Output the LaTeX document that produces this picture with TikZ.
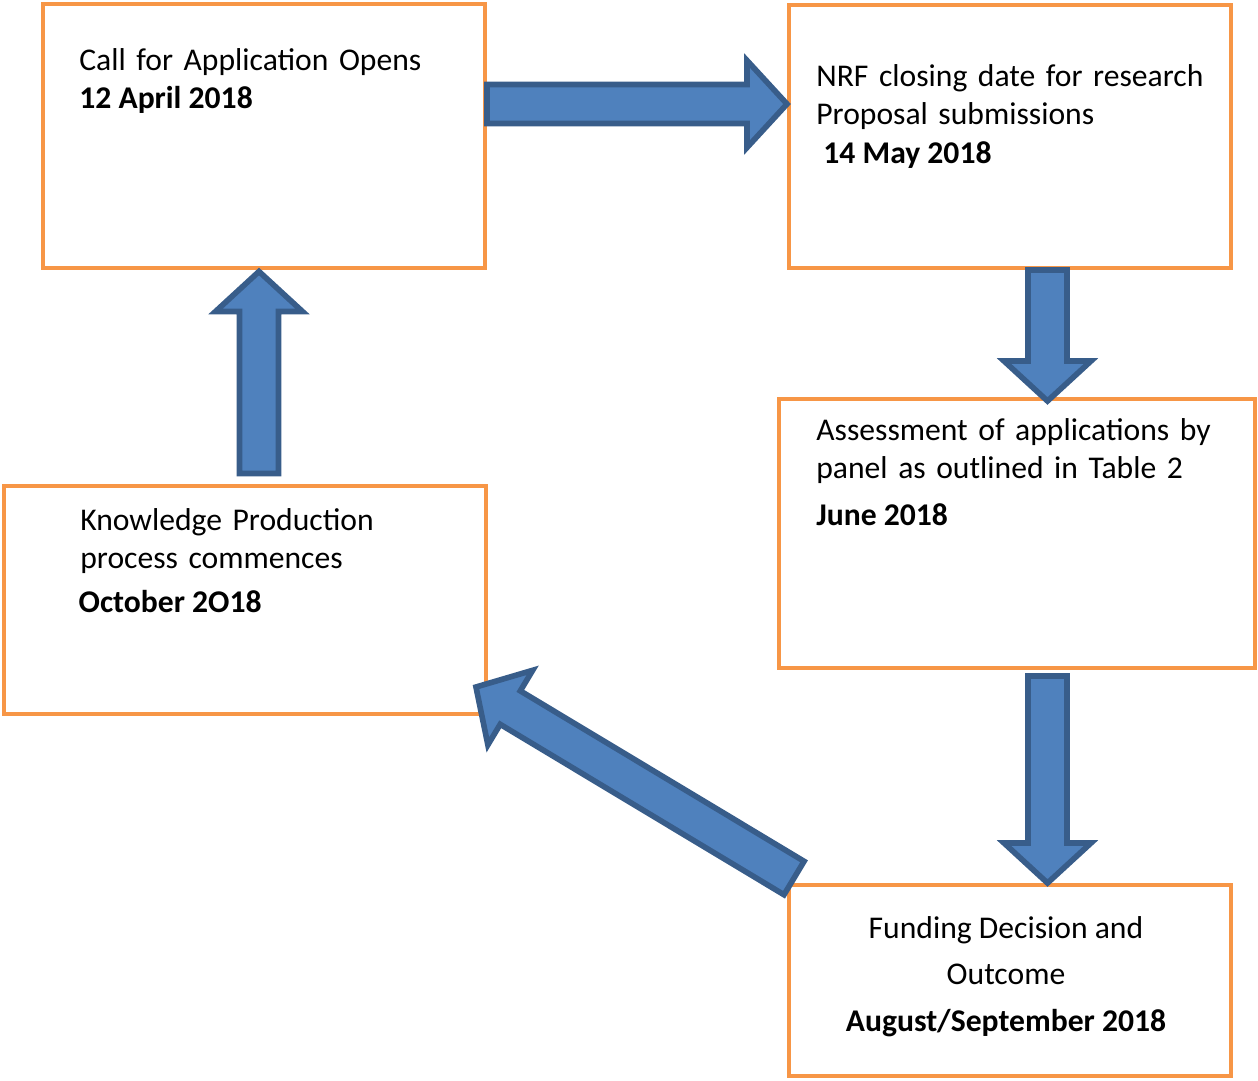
\documentclass[tikz,border=0pt]{standalone}
\usepackage{fontspec}
\setmainfont{Carlito}
\usetikzlibrary{positioning,calc}
\definecolor{boxColor}{RGB}{247,150,70}
\definecolor{arrowFill}{RGB}{79,129,189}
\definecolor{arrowLine}{RGB}{56,93,138}
\newcommand{\wideSpaces}{\spaceskip=6pt plus 1pt\relax}
\newcommand{\dateText}[1]{{\bfseries\spaceskip=0pt\relax #1}}
\tikzstyle{stageBox} = [draw=boxColor, line width=2.3pt, inner sep=0pt]
\tikzstyle{stageText} = [anchor=north west, inner sep=0pt, align=left, font=\fontsize{18}{22}\selectfont\wideSpaces]
\tikzstyle{arrowStyle} = [draw=arrowLine, fill=arrowFill, line width=3.2pt]
\newcommand{\shaftW}{0.39cm}
\newcommand{\headW}{0.87cm}
\newcommand{\headL}{0.8cm}
\newcommand{\blockArrow}[2]{
  \coordinate (headBase) at ($(#2)!\headL!(#1)$);
  \filldraw [arrowStyle] ($(#1)!\shaftW!90:(#2)$) -- ($(headBase)!\shaftW!90:(#2)$)
    -- ($(headBase)!\headW!90:(#2)$) -- (#2) -- ($(headBase)!\headW!-90:(#2)$)
    -- ($(headBase)!\shaftW!-90:(#2)$) -- ($(#1)!\shaftW!-90:(#2)$) -- cycle;
}

\begin{document}
\begin{tikzpicture}[x=0.02cm, y=-0.02cm]
  \useasboundingbox (0,0) rectangle (1258,1080);

  % stages
  \node [stageBox, minimum width=8.84cm, minimum height=5.28cm] (call) at (264,136) {};
  \node [stageBox, minimum width=8.84cm, minimum height=5.26cm] (closing) at (1010,136.5) {};
  \node [stageBox, minimum width=9.52cm, minimum height=5.38cm] (assess) at (1017,533.5) {};
  \node [stageBox, minimum width=8.84cm, minimum height=3.82cm] (funding) at (1010,980.5) {};
  \node [stageBox, minimum width=9.64cm, minimum height=4.56cm] (knowledge) at (245,600) {};

  \node [stageText] (callText) at ($(call.north west)+(38,46)$)
    {Call for Application Opens\\ \dateText{12 April 2018}};
  \node [stageText] (closingText) at ($(closing.north west)+(29,61)$)
    {NRF closing date for research\\Proposal submissions\\ \hspace*{4pt}\dateText{14 May 2018}};
  \node [stageText] (assessText) at ($(assess.north west)+(39,21)$)
    {Assessment of applications by\\panel as outlined in Table 2\\[4.6pt]\dateText{June 2018}};
  \node [stageText] (knowledgeText) at ($(knowledge.north west)+(78,24)$)
    {Knowledge Production\\process commences\\[2.9pt]\hspace*{-1pt}\dateText{October 2O18}};
  \node [stageText, anchor=north, align=center, font=\fontsize{18}{26.4}\selectfont] (fundingText)
    at ($(funding.north)+(-4,33)$)
    {Funding Decision and\\Outcome\\\dateText{August/September 2018}};

  % arrow ends
  \coordinate (a1Tail) at ($(call.east)+(0,-32)$);
  \coordinate (a1Tip) at ($(closing.west)+(0,-32.5)$);
  \coordinate (a2Tail) at ($(closing.south)+(37.5,0)$);
  \coordinate (a2Tip) at ($(assess.north)+(30.5,4)$);
  \coordinate (a3Tail) at ($(assess.south)+(30.5,6)$);
  \coordinate (a3Tip) at ($(funding.north)+(37.5,0)$);
  \coordinate (a4Tail) at ($(funding.north west)+(7,-5)$);
  \coordinate (a4Tip) at ($(knowledge.south east)+(-12,-29)$);
  \coordinate (a5Tail) at ($(knowledge.north)+(14,-10.5)$);
  \coordinate (a5Tip) at ($(call.south)+(-5,1.5)$);

  \blockArrow{a1Tail}{a1Tip}
  \blockArrow{a2Tail}{a2Tip}
  \blockArrow{a3Tail}{a3Tip}
  \blockArrow{a4Tail}{a4Tip}
  \blockArrow{a5Tail}{a5Tip}
\end{tikzpicture}
\end{document}
